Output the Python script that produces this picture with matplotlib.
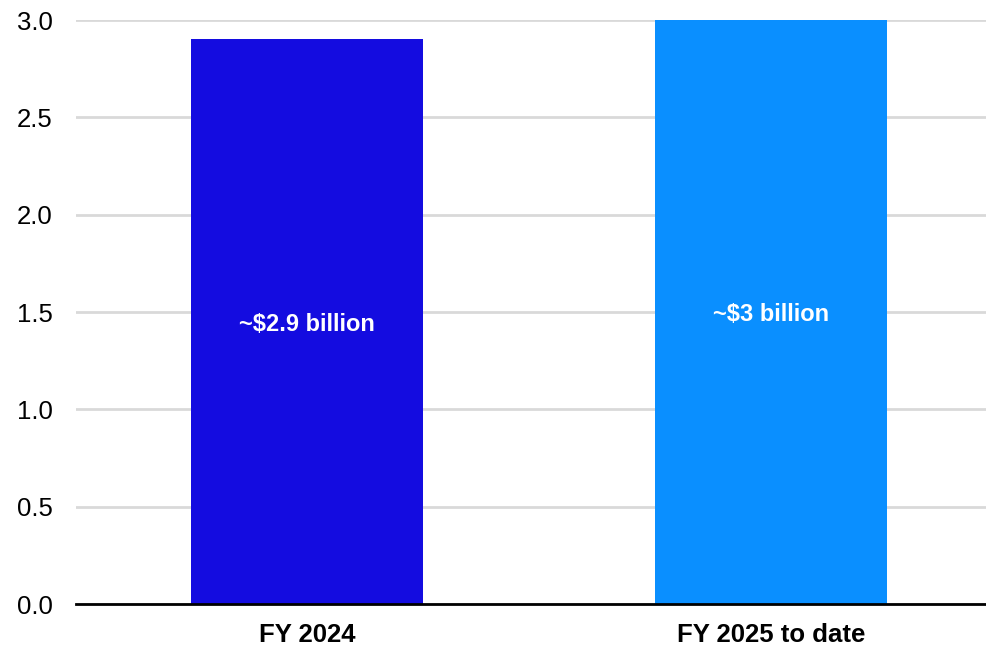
import matplotlib
matplotlib.use("Agg")
import matplotlib.pyplot as plt

categories = ["FY 2024", "FY 2025 to date"]
values = [2.9, 3.0]
bar_labels = ["~$2.9 billion", "~$3 billion"]
colors = ["#140ce0", "#0a8fff"]

plt.rcParams["font.family"] = ["Liberation Sans", "DejaVu Sans"]

fig = plt.figure(figsize=(9.87, 6.48), dpi=100)
ax = fig.add_axes([76 / 987, 1 - 604 / 648, (987 - 76) / 987, (604 - 20) / 648])

x = list(range(len(categories)))
bars = ax.bar(x, values, width=0.5, color=colors, zorder=2)

for rect, lab, v in zip(bars, bar_labels, values):
    ax.text(rect.get_x() + rect.get_width() / 2, v / 2, lab, ha="center", va="center_baseline",
            color="white", fontsize=17, fontweight="bold", zorder=3)

ax.set_xlim(-0.498, 1.466)
ax.set_ylim(0, 3.0)
ax.set_yticks([0, 0.5, 1.0, 1.5, 2.0, 2.5, 3.0])
ax.set_yticklabels(["0.0", "0.5", "1.0", "1.5", "2.0", "2.5", "3.0"])
ax.set_xticks(x)
ax.set_xticklabels(categories, fontsize=18.5, fontweight="bold")
ax.tick_params(axis="y", labelsize=18.5, length=0, pad=17)
ax.tick_params(axis="x", length=0, pad=14)
ax.grid(True, axis="y", color="#d9d9d9", linewidth=2, zorder=0)
ax.set_axisbelow(True)
for s in ["top", "right", "left"]:
    ax.spines[s].set_visible(False)
ax.spines["bottom"].set_linewidth(2)
ax.spines["bottom"].set_color("black")
ax.spines["bottom"].set_zorder(4)

fig.savefig("out.png", dpi=100)
